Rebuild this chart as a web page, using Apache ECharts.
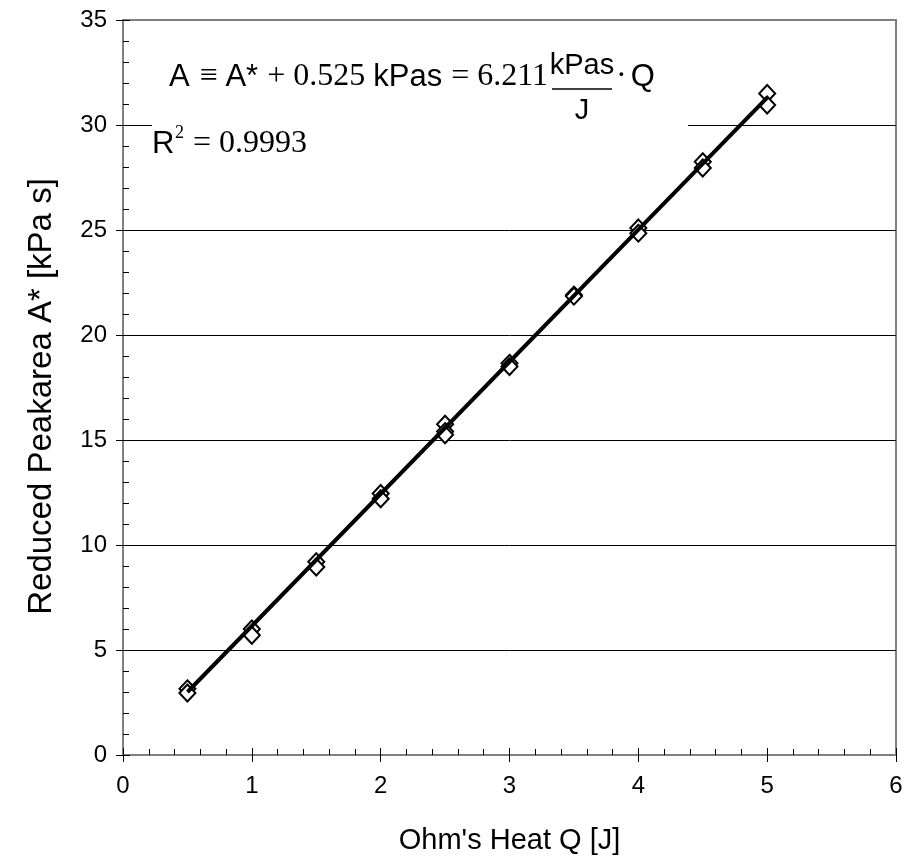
<!DOCTYPE html>
<html>
<head>
<meta charset="utf-8">
<script src="https://cdn.jsdelivr.net/npm/echarts@6/dist/echarts.min.js"></script>
<style>
  html, body { margin: 0; padding: 0; background: #fff; }
  #chart { width: 906px; height: 864px; }
</style>
</head>
<body>
<div id="chart"></div>
<script>
// measured points (Q in J, reduced peak area in kPa s)
const heatQ = [0.5, 0.5, 1, 1, 1.5, 1.5, 2, 2, 2.5, 2.5, 2.5, 3, 3, 3.5, 3.5, 4, 4, 4.5, 4.5, 5, 5];
const peakArea = [3.15, 2.95, 6.0, 5.7, 9.2, 8.95, 12.45, 12.2, 15.75, 15.4, 15.25, 18.65, 18.5, 21.9, 21.85, 25.1, 24.85, 28.25, 27.95, 31.5, 30.95];
// trend line end points
const trendQ = [0.5, 5];
const trendA = [3.0, 31.3];
const xTicks = [0, 1, 2, 3, 4, 5, 6];
const yTicks = [0, 5, 10, 15, 20, 25, 30, 35];

const SANS = 'Liberation Sans';
const SERIF = 'Liberation Serif';

const chart = echarts.init(document.getElementById('chart'), null, { renderer: 'canvas' });

const points = heatQ.map((q, i) => [q, peakArea[i]]);
const trend = trendQ.map((q, i) => [q, trendA[i]]);

// split line colours: top/bottom ones blend with frame
const splitColors = yTicks.map((v, i) => (i === 0 || i === yTicks.length - 1) ? '#808080' : '#000');

const option = {
  backgroundColor: '#fff',
  animation: false,
  grid: {
    left: 123, right: 10, top: 20, bottom: 109,
    show: true, borderColor: '#808080', borderWidth: 2, backgroundColor: 'transparent'
  },
  xAxis: [{
    type: 'value',
    min: xTicks[0], max: xTicks[xTicks.length - 1], interval: 1,
    position: 'bottom',
    name: "Ohm's Heat Q [J]",
    nameLocation: 'middle',
    nameGap: 71,
    nameTextStyle: { fontFamily: SANS, fontSize: 29, color: '#000' },
    axisLine: { show: true, lineStyle: { color: '#808080', width: 2 } },
    axisTick: { show: true, inside: true, length: 7, lineStyle: { color: '#000' } },
    minorTick: { show: true, splitNumber: 5, length: 6, lineStyle: { color: '#000' } },
    splitLine: { show: false },
    axisLabel: { fontFamily: SANS, fontSize: 24, color: '#000', margin: 19 }
  }, {
    // outer half of the crossing major ticks
    type: 'value',
    min: xTicks[0], max: xTicks[xTicks.length - 1], interval: 1,
    position: 'bottom',
    axisLine: { show: false },
    axisTick: { show: true, inside: false, length: 7, lineStyle: { color: '#000' } },
    axisLabel: { show: false },
    splitLine: { show: false }
  }],
  yAxis: [{
    type: 'value',
    min: yTicks[0], max: yTicks[yTicks.length - 1], interval: 5,
    position: 'left',
    name: 'Reduced Peakarea A* [kPa s]',
    nameLocation: 'middle',
    nameGap: 65,
    nameTextStyle: { fontFamily: SANS, fontSize: 33, color: '#000', padding: [0, 18, 0, 0] },
    axisLine: { show: true, lineStyle: { color: '#808080', width: 2 } },
    axisTick: { show: true, inside: true, length: 7, lineStyle: { color: '#000' } },
    minorTick: { show: true, splitNumber: 5, length: 6, lineStyle: { color: '#000' } },
    splitLine: { show: true, lineStyle: { color: splitColors, width: 1 } },
    axisLabel: { fontFamily: SANS, fontSize: 24, color: '#000', margin: 16 }
  }, {
    type: 'value',
    min: yTicks[0], max: yTicks[yTicks.length - 1], interval: 5,
    position: 'left',
    axisLine: { show: false },
    axisTick: { show: true, inside: false, length: 7, lineStyle: { color: '#000' } },
    axisLabel: { show: false },
    splitLine: { show: false }
  }],
  series: [{
    type: 'scatter',
    xAxisIndex: 0, yAxisIndex: 0,
    data: points,
    symbol: 'diamond',
    symbolSize: [16, 17],
    itemStyle: { color: '#fff', borderColor: '#000', borderWidth: 2, opacity: 1 },
    z: 2
  }, {
    type: 'line',
    xAxisIndex: 0, yAxisIndex: 0,
    data: trend,
    symbol: 'none',
    lineStyle: { color: '#000', width: 4 },
    z: 3
  }],
  graphic: [
    // white box behind the equation hides the grid line
    { type: 'rect', z: 10, shape: { x: 152, y: 38, width: 536, height: 128 }, style: { fill: '#fff' } },
    {
      type: 'text', z: 11, x: 548, y: 77,
      style: {
        text: '{s|A }{t|≡ }{s|A*}{t| + 0.525 }{s|kPas}{t| = 6.211}',
        align: 'right', verticalAlign: 'middle', fill: '#000',
        rich: {
          s: { fontFamily: SANS, fontSize: 31, fill: '#000', padding: [0, 1, 0, 0] },
          t: { fontFamily: SERIF, fontSize: 32, fill: '#000' }
        }
      }
    },
    { type: 'text', z: 11, x: 582, y: 66, style: { text: 'kPas', font: '29px ' + SANS, align: 'center', verticalAlign: 'middle', fill: '#000' } },
    { type: 'line', z: 11, shape: { x1: 552, y1: 89, x2: 612, y2: 89 }, style: { stroke: '#000', lineWidth: 1.5 } },
    { type: 'text', z: 11, x: 582, y: 111, style: { text: 'J', font: '29px ' + SANS, align: 'center', verticalAlign: 'middle', fill: '#000' } },
    {
      type: 'text', z: 11, x: 616, y: 77,
      style: {
        text: '{t|·}{s|Q}', align: 'left', verticalAlign: 'middle', fill: '#000',
        rich: {
          s: { fontFamily: SANS, fontSize: 31, fill: '#000' },
          t: { fontFamily: SERIF, fontSize: 32, fill: '#000', padding: [0, 4, 0, 0] }
        }
      }
    },
    { type: 'text', z: 11, x: 152, y: 144, style: { text: 'R', font: '31px ' + SANS, align: 'left', verticalAlign: 'middle', fill: '#000' } },
    { type: 'text', z: 11, x: 175, y: 133, style: { text: '2', font: '18px ' + SERIF, align: 'left', verticalAlign: 'middle', fill: '#000' } },
    { type: 'text', z: 11, x: 185, y: 144, style: { text: ' = 0.9993', font: '32px ' + SERIF, align: 'left', verticalAlign: 'middle', fill: '#000' } }
  ]
};

chart.setOption(option);
</script>
</body>
</html>
